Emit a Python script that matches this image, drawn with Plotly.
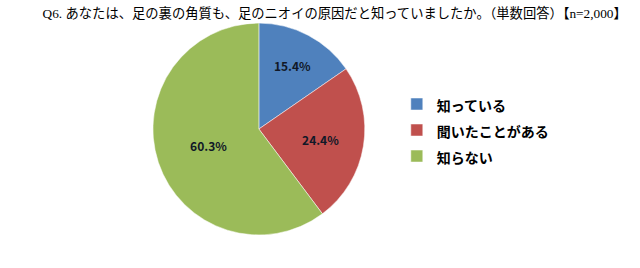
import plotly.graph_objects as go

labels = ["知っている", "聞いたことがある", "知らない"]
values = [15.4, 24.4, 60.3]
colors = ["#4F81BD", "#C0504D", "#9BBB59"]
title = "Q6. あなたは、足の裏の角質も、足のニオイの原因だと知っていましたか。（単数回答）【n=2,000】"

legend_labels = ['<span style="font-size:14px">%s</span>' % s for s in labels]

fig = go.Figure(go.Pie(
    labels=legend_labels, values=values,
    marker=dict(colors=colors, line=dict(color="#ffffff", width=0.5)),
    sort=False, direction="clockwise", rotation=0,
    texttemplate="%{value:.1f}%", textinfo="text",
    textposition="inside", insidetextorientation="horizontal",
    textfont=dict(family="Noto Sans CJK JP, sans-serif", size=12, color="#111827", weight="bold"),
    domain=dict(x=[0.239, 0.570], y=[0.123, 0.914]),
    hoverinfo="skip",
))

fig.update_layout(
    width=640, height=268,
    margin=dict(l=0, r=0, t=0, b=0),
    paper_bgcolor="white", plot_bgcolor="white",
    title=dict(text=title, x=0.523, xanchor="center", y=0.952, yanchor="middle",
               font=dict(family="Liberation Serif, Noto Sans CJK JP, serif", size=13.3, color="#000000")),
    legend=dict(x=0.62, xanchor="left", y=0.513, yanchor="middle",
                font=dict(family="Noto Sans CJK JP, sans-serif", size=17.7, color="#000000", weight="bold"),
                tracegroupgap=0, itemwidth=30, bgcolor="rgba(0,0,0,0)"),
    showlegend=True,
)

fig.write_html("out.html")
